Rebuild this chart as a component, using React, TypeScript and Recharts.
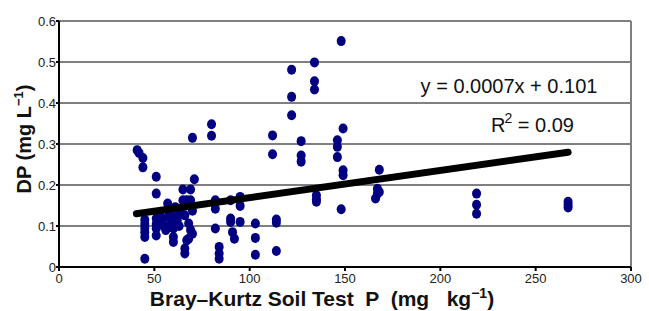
import { ScatterChart, Scatter, XAxis, YAxis, CartesianGrid, ReferenceLine, Customized } from 'recharts';

// Bray-Kurtz soil test P (mg/kg) vs dissolved P (mg/L)
const soilP = [
    41, 42, 44, 44, 45, 45, 45, 45, 45, 45,
    51, 51, 51, 51, 51, 51, 53, 54, 55, 56,
    57, 57, 57, 58, 59, 60, 60, 60, 60, 61,
    62, 62, 63, 64, 65, 65, 66, 66, 66, 67,
    67, 68, 68, 69, 69, 69, 70, 71, 70, 70,
    68, 80, 80, 82, 82, 82, 84, 84, 84, 90,
    90, 91, 92, 90, 95, 95, 95, 103, 103, 103,
    112, 112, 114, 114, 114, 122, 122, 122, 127, 127,
    127, 134, 134, 134, 135, 135, 135, 146, 146, 146,
    148, 149, 149, 149, 148, 168, 167, 167, 166, 168,
    219, 219, 219, 267, 267, 267,
];
const dp = [
    0.285, 0.278, 0.266, 0.243, 0.115, 0.105, 0.095, 0.085, 0.073, 0.02,
    0.22, 0.179, 0.118, 0.105, 0.094, 0.077, 0.125, 0.11, 0.1, 0.09,
    0.155, 0.122, 0.098, 0.13, 0.115, 0.094, 0.073, 0.061, 0.106, 0.146,
    0.114, 0.125, 0.1, 0.13, 0.189, 0.163, 0.126, 0.045, 0.033, 0.163,
    0.065, 0.106, 0.069, 0.09, 0.163, 0.189, 0.315, 0.214, 0.137, 0.081,
    0.15, 0.348, 0.32, 0.163, 0.142, 0.094, 0.049, 0.033, 0.02, 0.163,
    0.118, 0.085, 0.069, 0.11, 0.171, 0.149, 0.11, 0.106, 0.071, 0.03,
    0.321, 0.275, 0.116, 0.108, 0.039, 0.481, 0.415, 0.37, 0.307, 0.272,
    0.257, 0.499, 0.453, 0.433, 0.175, 0.165, 0.159, 0.309, 0.293, 0.268,
    0.551, 0.338, 0.236, 0.224, 0.141, 0.237, 0.191, 0.179, 0.167, 0.183,
    0.179, 0.152, 0.13, 0.159, 0.152, 0.145,
];

// fitted line end points as drawn
const trendX = [40.6, 267];
const trendY = [0.13, 0.28];

const xTicks = [0, 50, 100, 150, 200, 250, 300];
const yTicks = [0, 0.1, 0.2, 0.3, 0.4, 0.5, 0.6];

const FONT = '"Liberation Sans", Arial, sans-serif';

const points = soilP.map((x, i) => ({ x, y: dp[i] }));
const trend = trendX.map((x, i) => ({ x, y: trendY[i] }));

const Dot = ({ cx, cy }: { cx?: number; cy?: number }) => {
    if (cx === undefined || cy === undefined) return null;
    return <ellipse cx={cx} cy={cy} rx={4.5} ry={5} fill="#000080" />;
};

const Annotations = () => (
    <g fontFamily={FONT} fill="#111">
        <text x={509} y={93} fontSize={20} textAnchor="middle">y = 0.0007x + 0.101</text>
        <text x={491} y={132} fontSize={20}>
            R<tspan dy={-9} dx={-1} fontSize={14}>2</tspan><tspan dy={9}> = 0.09</tspan>
        </text>
        <text x={322} y={306} fontSize={21} fontWeight="bold" textAnchor="middle" style={{ whiteSpace: 'pre' }}>
            Bray–Kurtz Soil Test  P  (mg   kg<tspan dy={-8} fontSize={14}>−1</tspan><tspan dy={8}>)</tspan>
        </text>
        <text x={31} y={139} fontSize={20} fontWeight="bold" textAnchor="middle" transform="rotate(-90, 31, 139)">
            DP (mg L<tspan dy={-8} fontSize={13}>−1</tspan><tspan dy={8}>)</tspan>
        </text>
    </g>
);

export default function App() {
    return (
        <div style={{ position: 'absolute', left: 0, top: 0, background: '#fff' }}>
            <ScatterChart width={649} height={311} margin={{ top: 21, right: 18, bottom: 0, left: 9 }}>
                <CartesianGrid vertical={false} stroke="#808080" strokeWidth={2} />
                <ReferenceLine x={300} stroke="#808080" strokeWidth={2} />
                <XAxis
                    type="number"
                    dataKey="x"
                    domain={[0, 300]}
                    ticks={xTicks}
                    height={44}
                    stroke="#000"
                    strokeWidth={2}
                    tickSize={4}
                    tickMargin={3}
                    tick={{ fontSize: 13, fill: '#222', fontFamily: FONT }}
                />
                <YAxis
                    type="number"
                    dataKey="y"
                    domain={[0, 0.6]}
                    ticks={yTicks}
                    width={50}
                    stroke="#000"
                    strokeWidth={2}
                    tickSize={3}
                    tickMargin={0}
                    tick={{ fontSize: 13, fill: '#222', fontFamily: FONT }}
                />
                <Scatter data={points} shape={<Dot />} isAnimationActive={false} />
                <Scatter
                    data={trend}
                    line={{ stroke: '#000', strokeWidth: 7, strokeLinecap: 'round' }}
                    shape={() => <g />}
                    isAnimationActive={false}
                />
                <Customized component={Annotations} />
            </ScatterChart>
        </div>
    );
}
